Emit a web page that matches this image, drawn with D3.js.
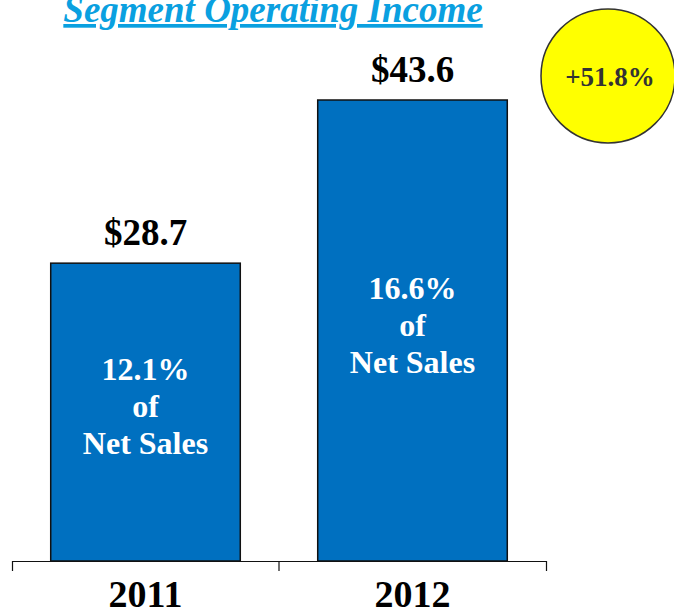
<!DOCTYPE html>
<html>
<head>
<meta charset="utf-8">
<script src="https://cdnjs.cloudflare.com/ajax/libs/d3/7.8.5/d3.min.js"></script>
<style>
body { margin: 0; background: #fff; }
text { font-family: "Liberation Serif", "Times New Roman", serif; font-weight: bold; }
</style>
</head>
<body>
<svg width="674" height="609"></svg>
<script>
var years = ["2011", "2012"];
var income = [28.7, 43.6];
var pctLabels = ["12.1%", "16.6%"];
var valueLabels = ["$28.7", "$43.6"];
var growthLabel = "+51.8%";

var svg = d3.select("svg");

var x = d3.scaleBand()
    .domain(years)
    .range([12, 546])
    .paddingInner(0.29)
    .paddingOuter(0.145);

// axis in the original does not start at zero
var y = d3.scaleLinear()
    .domain([1.5, 43.6])
    .range([561, 100]);

// title
svg.append("text")
  .attr("x", 273)
  .attr("y", 22)
  .attr("text-anchor", "middle")
  .attr("font-size", 37)
  .attr("font-style", "italic")
  .attr("fill", "#0aa0e0")
  .attr("text-decoration", "underline")
  .text("Segment Operating Income");

// bars
svg.selectAll(".bar")
  .data(income)
  .enter()
  .append("rect")
    .attr("class", "bar")
    .attr("x", function(d, i) { return x(years[i]); })
    .attr("y", function(d) { return y(d); })
    .attr("width", x.bandwidth())
    .attr("height", function(d) { return y.range()[0] - y(d); })
    .attr("fill", "#0070c0")
    .attr("stroke", "#111")
    .attr("stroke-width", 1.5);

// value labels above
svg.selectAll(".val")
  .data(income)
  .enter()
  .append("text")
    .attr("class", "val")
    .attr("x", function(d, i) { return x(years[i]) + x.bandwidth() / 2; })
    .attr("y", function(d) { return y(d) - 18; })
    .attr("text-anchor", "middle")
    .attr("font-size", 37)
    .attr("fill", "#000")
    .text(function(d, i) { return valueLabels[i]; });

// text inside bars
income.forEach(function(d, i) {
  var cx = x(years[i]) + x.bandwidth() / 2;
  var mid = (y(d) + y.range()[0]) / 2 - 6;
  var lines = [pctLabels[i], "of", "Net Sales"];
  lines.forEach(function(t, j) {
    svg.append("text")
      .attr("x", cx)
      .attr("y", mid + (j - 1) * 37)
      .attr("dy", "0.35em")
      .attr("text-anchor", "middle")
      .attr("font-size", 32)
      .attr("fill", "#fff")
      .text(t);
  });
});

// axis
var axis = d3.axisBottom(x).tickSize(10).tickSizeOuter(10).tickFormat("");
var ag = svg.append("g")
  .attr("transform", "translate(0,561)")
  .call(axis);
ag.select(".domain").attr("stroke", "#111").attr("stroke-width", 1.2);
// ticks at band boundaries instead of centers
ag.selectAll(".tick").remove();
ag.append("line")
  .attr("x1", x("2012") - x.step() * x.paddingInner() / 2)
  .attr("x2", x("2012") - x.step() * x.paddingInner() / 2)
  .attr("y1", 0).attr("y2", 10)
  .attr("stroke", "#111").attr("stroke-width", 1.2);

svg.selectAll(".year")
  .data(years)
  .enter()
  .append("text")
    .attr("class", "year")
    .attr("x", function(d) { return x(d) + x.bandwidth() / 2; })
    .attr("y", 607)
    .attr("text-anchor", "middle")
    .attr("font-size", 38)
    .attr("fill", "#000")
    .text(function(d) { return d; });

// growth bubble
svg.append("circle")
  .attr("cx", 608)
  .attr("cy", 76)
  .attr("r", 67)
  .attr("fill", "#ffff00")
  .attr("stroke", "#333")
  .attr("stroke-width", 1.5);

svg.append("text")
  .attr("x", 610)
  .attr("y", 77)
  .attr("dy", "0.35em")
  .attr("text-anchor", "middle")
  .attr("font-size", 27)
  .attr("fill", "#333")
  .text(growthLabel);
</script>
</body>
</html>
